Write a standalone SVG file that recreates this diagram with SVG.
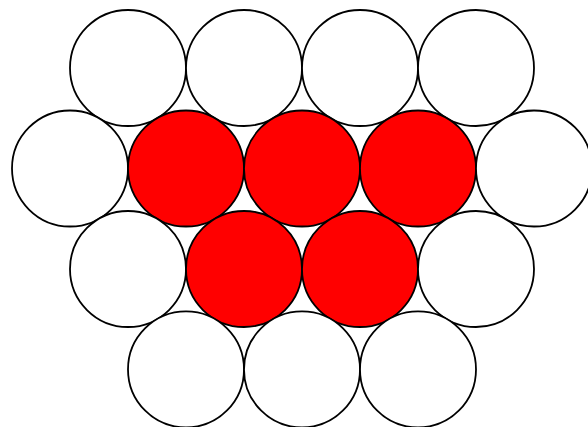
<svg xmlns="http://www.w3.org/2000/svg" width="588" height="427" viewBox="0 0 588 427">
<style>
circle{stroke:#000;stroke-width:1.8}
.w{fill:#fff}
.r{fill:#ff0000}
</style>
<rect width="588" height="427" fill="#fff"/>
<g id="row1">
<g id="c1"><circle class="w" cx="128" cy="68" r="58"/></g>
<g id="c2"><circle class="w" cx="244" cy="68" r="58"/></g>
<g id="c3"><circle class="w" cx="360" cy="68" r="58"/></g>
<g id="c4"><circle class="w" cx="476" cy="68" r="58"/></g>
</g>
<g id="row2">
<g id="c5"><circle class="w" cx="70" cy="168.5" r="58"/></g>
<g id="c6"><circle class="r" cx="186" cy="168.5" r="58"/></g>
<g id="c7"><circle class="r" cx="302" cy="168.5" r="58"/></g>
<g id="c8"><circle class="r" cx="418" cy="168.5" r="58"/></g>
<g id="c9"><circle class="w" cx="534" cy="168.5" r="58"/></g>
</g>
<g id="row3">
<g id="c10"><circle class="w" cx="128" cy="269" r="58"/></g>
<g id="c11"><circle class="r" cx="244" cy="269" r="58"/></g>
<g id="c12"><circle class="r" cx="360" cy="269" r="58"/></g>
<g id="c13"><circle class="w" cx="476" cy="269" r="58"/></g>
</g>
<g id="row4">
<g id="c14"><circle class="w" cx="186" cy="369.4" r="58"/></g>
<g id="c15"><circle class="w" cx="302" cy="369.4" r="58"/></g>
<g id="c16"><circle class="w" cx="418" cy="369.4" r="58"/></g>
</g>
<g id="connectors"/>
</svg>
